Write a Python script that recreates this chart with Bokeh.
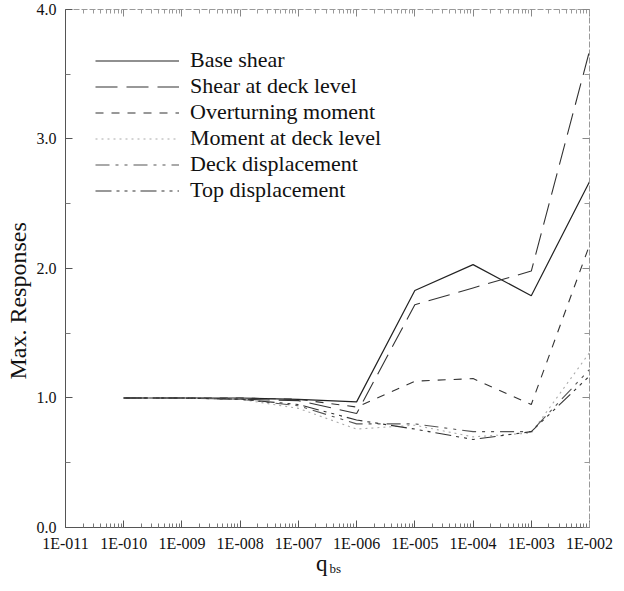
import math
from bokeh.plotting import figure
from bokeh.models import (FixedTicker, LogAxis, LinearAxis, Legend, LegendItem,
                          Label, Range1d, ColumnDataSource)
from bokeh.embed import file_html
from bokeh.resources import INLINE

# ---------------- data ----------------
q_bs = [1e-10, 1e-9, 1e-8, 1e-7, 1e-6, 1e-5, 1e-4, 1e-3, 1e-2]

base_shear      = [1.00, 1.00, 1.00, 0.99, 0.97, 1.83, 2.03, 1.79, 2.67]
shear_deck      = [1.00, 1.00, 0.99, 0.98, 0.88, 1.72, 1.85, 1.98, 3.68]
overturning     = [1.00, 1.00, 1.00, 0.99, 0.93, 1.13, 1.15, 0.95, 2.18]
moment_deck     = [1.00, 1.00, 0.99, 0.92, 0.76, 0.79, 0.70, 0.73, 1.35]
deck_disp       = [1.00, 1.00, 0.99, 0.94, 0.80, 0.80, 0.74, 0.74, 1.22]
top_disp        = [1.00, 1.00, 0.99, 0.95, 0.83, 0.76, 0.68, 0.74, 1.17]

series_names = ["Base shear", "Shear at deck level", "Overturning moment",
                "Moment at deck level", "Deck displacement", "Top displacement"]

x_ticks = [1e-11, 1e-10, 1e-9, 1e-8, 1e-7, 1e-6, 1e-5, 1e-4, 1e-3, 1e-2]
x_tick_labels = ["1E-011", "1E-010", "1E-009", "1E-008", "1E-007", "1E-006",
                 "1E-005", "1E-004", "1E-003", "1E-002"]
y_ticks = [0, 1, 2, 3, 4]
y_tick_labels = ["0.0", "1.0", "2.0", "3.0", "4.0"]
x_title = "q"
x_title_sub = "bs"
y_title = "Max. Responses"

X_MIN, X_MAX = 1e-11, 1e-2
Y_MIN, Y_MAX = 0.0, 4.0

# ---------------- figure ----------------
# The frame covers the whole canvas; the axes are pinned at the data limits so
# that every label and title lies inside it.
FONT = "Liberation Serif"
p = figure(x_axis_type="log", frame_width=613, frame_height=581,
           x_range=Range1d(10 ** -12.1165, 10 ** -1.5878),
           y_range=Range1d(-0.417, 4.0695),
           output_backend="svg", toolbar_location=None,
           min_border_left=0, min_border_right=0, min_border_top=0,
           min_border_bottom=0)
p.outline_line_color = None
p.xgrid.visible = False
p.ygrid.visible = False
p.background_fill_color = "white"
p.border_fill_color = "white"

minor_x = [m * 10.0 ** e for e in range(-11, -2) for m in range(2, 10)]
minor_y = [0.5, 1.5, 2.5, 3.5]

# bottom axis, drawn at y = 0
xa = p.xaxis[0]
xa.fixed_location = Y_MIN
xa.bounds = (X_MIN, X_MAX)
xa.ticker = FixedTicker(ticks=x_ticks, minor_ticks=minor_x)
xa.major_label_overrides = {t: l for t, l in zip(x_ticks, x_tick_labels)}
xa.major_label_text_font = FONT
xa.major_label_text_font_size = "16px"
xa.major_label_text_color = "#111111"
xa.major_label_standoff = 8
xa.major_tick_in = 7
xa.major_tick_out = 0
xa.minor_tick_in = 4
xa.minor_tick_out = 0
xa.axis_line_color = "#555555"
xa.major_tick_line_color = "#555555"
xa.minor_tick_line_color = "#777777"

# left axis, drawn at x = 1E-011
ya = p.yaxis[0]
ya.fixed_location = X_MIN
ya.bounds = (Y_MIN, Y_MAX)
ya.ticker = FixedTicker(ticks=y_ticks, minor_ticks=minor_y)
ya.major_label_overrides = {t: l for t, l in zip(y_ticks, y_tick_labels)}
ya.major_label_text_font = FONT
ya.major_label_text_font_size = "16px"
ya.major_label_text_color = "#111111"
ya.major_label_standoff = 9
ya.major_tick_in = 7
ya.major_tick_out = 0
ya.minor_tick_in = 5
ya.minor_tick_out = 0
ya.axis_line_color = "#555555"
ya.major_tick_line_color = "#555555"
ya.minor_tick_line_color = "#777777"

# mirrored top / right ticks (labels made invisible)
top = LogAxis(ticker=FixedTicker(ticks=x_ticks, minor_ticks=minor_x),
              fixed_location=Y_MAX, bounds=(X_MIN, X_MAX),
              major_label_text_font_size="6px", major_label_text_alpha=0,
              major_label_standoff=0,
              major_tick_in=7, major_tick_out=0, minor_tick_in=4, minor_tick_out=0,
              axis_line_color="#999999", axis_line_dash="6 2",
              major_tick_line_color="#888888", minor_tick_line_color="#999999")
p.add_layout(top, "above")
right = LinearAxis(ticker=FixedTicker(ticks=y_ticks, minor_ticks=minor_y),
                   fixed_location=X_MAX, bounds=(Y_MIN, Y_MAX),
                   major_label_text_font_size="6px", major_label_text_alpha=0,
                   major_label_standoff=0,
                   major_tick_in=7, major_tick_out=0, minor_tick_in=5, minor_tick_out=0,
                   axis_line_color="#999999", axis_line_dash="6 2",
                   major_tick_line_color="#888888", minor_tick_line_color="#999999")
p.add_layout(right, "right")

# ---------------- lines ----------------
series = [base_shear, shear_deck, overturning, moment_deck, deck_disp, top_disp]
styles = [
    dict(line_color="#222222", line_dash="solid", line_width=1.2),
    dict(line_color="#333333", line_dash="22 9", line_width=1.1),
    dict(line_color="#333333", line_dash="8 8", line_width=1.1),
    dict(line_color="#aaaaaa", line_dash="2 4", line_width=1.1),
    dict(line_color="#555555", line_dash="14 6 3 6 3 6", line_width=1.1),
    dict(line_color="#333333", line_dash="16 5 3 5 3 5 3 5", line_width=1.1),
]
items = []
for name, ys, st in zip(series_names, series, styles):
    src = ColumnDataSource(dict(x=q_bs, y=ys))
    r = p.line("x", "y", source=src, **st)
    items.append(LegendItem(label=name, renderers=[r]))

legend = Legend(items=items, location=(95, 378), glyph_width=84, glyph_height=25,
                label_height=25, spacing=0, padding=0, margin=0,
                label_standoff=11, label_text_font=FONT,
                label_text_font_size="22px", label_text_color="#111111",
                background_fill_alpha=0, border_line_alpha=0)
p.add_layout(legend, "center")

# x-axis title "q" with subscript "bs"
p.add_layout(Label(x=10 ** -6.5, x_units="data", y=-0.28, y_units="data",
                   text=x_title, text_font=FONT, text_font_size="23px",
                   text_align="right", text_baseline="middle", text_color="#111111"))
p.add_layout(Label(x=10 ** -6.5, x_units="data", y=-0.315, y_units="data",
                   text=x_title_sub, text_font=FONT, text_font_size="13px",
                   text_align="left", text_baseline="middle", text_color="#111111",
                   x_offset=2))

# y-axis title
p.add_layout(Label(x=10 ** -11.82, x_units="data", y=1.75, y_units="data",
                   text=y_title, text_font=FONT, text_font_size="24px",
                   angle=math.pi / 2, text_align="center", text_baseline="middle",
                   text_color="#111111"))

open("out.html", "w").write(file_html(p, INLINE))
